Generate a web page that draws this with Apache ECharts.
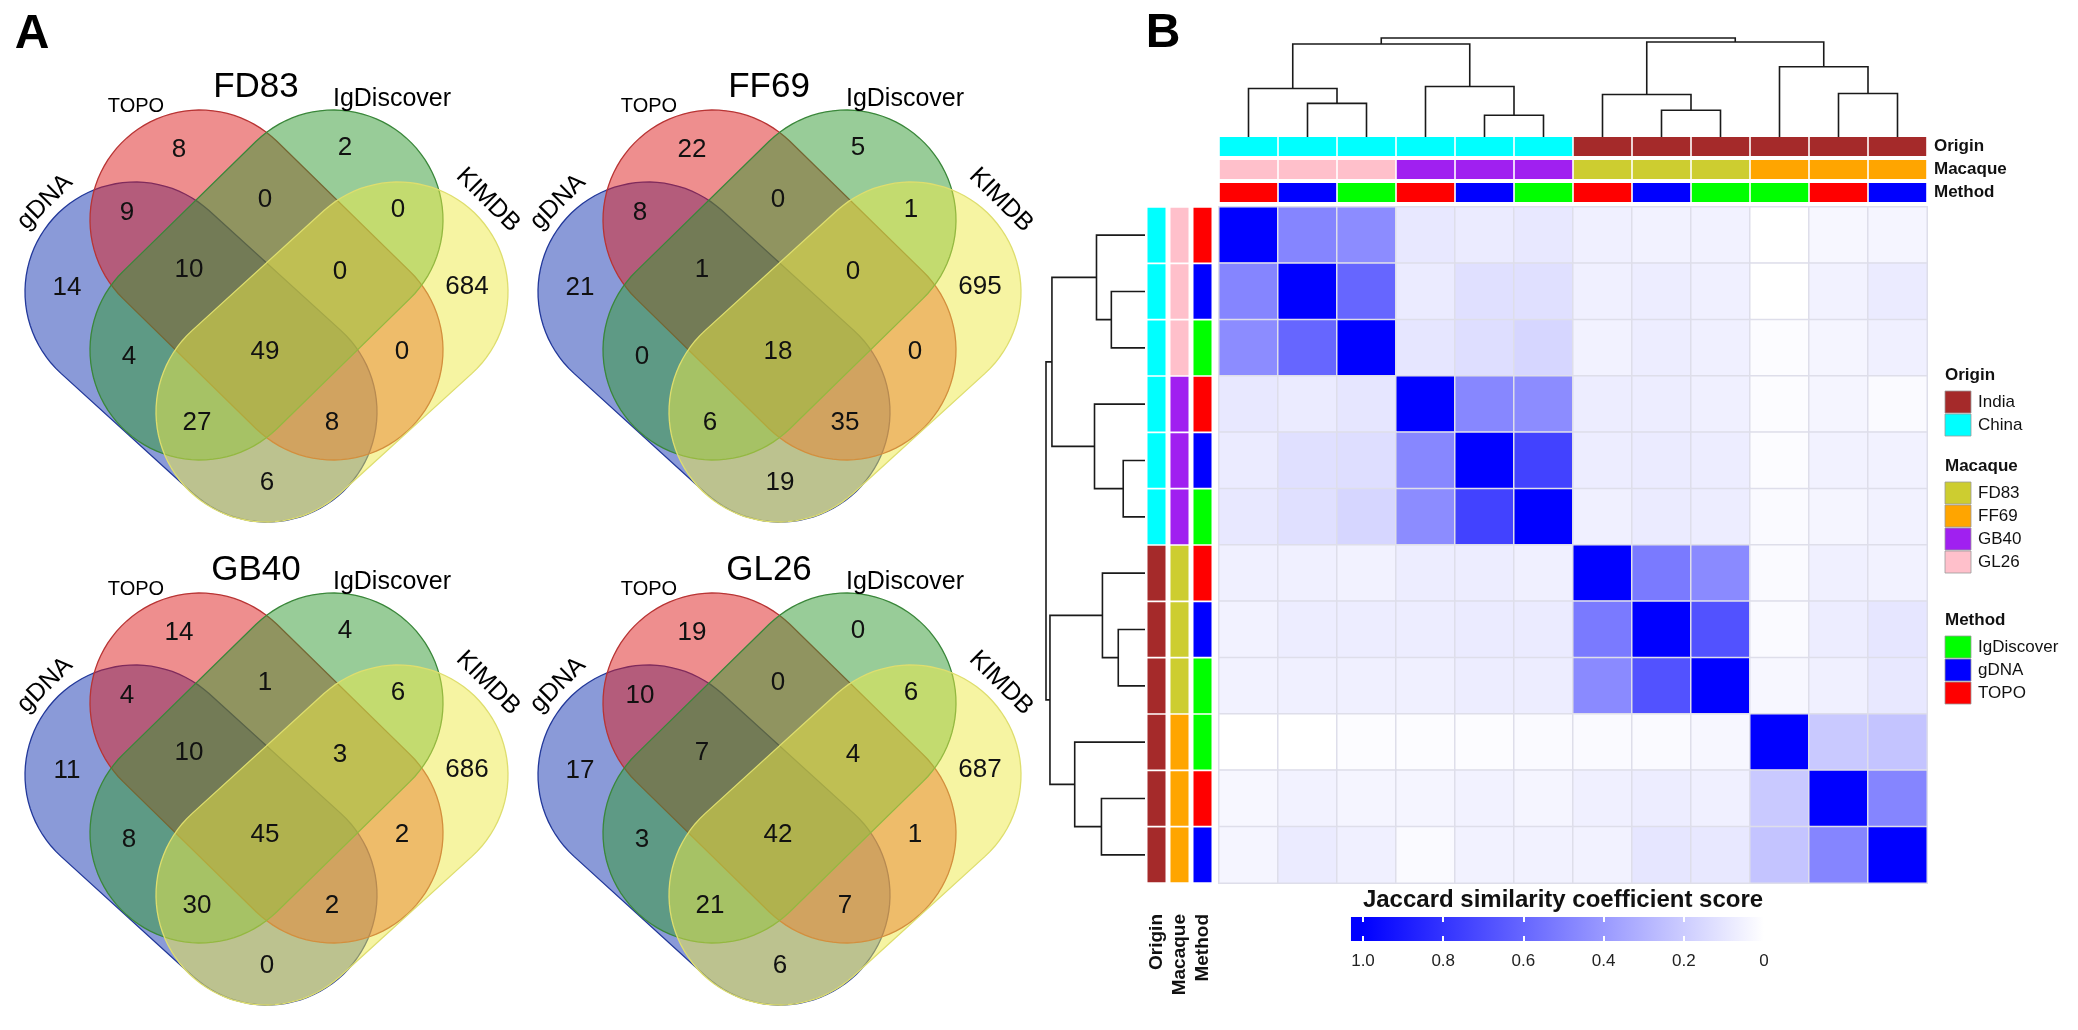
<!DOCTYPE html>
<html>
<head>
<meta charset="utf-8">
<title>Venn diagrams and Jaccard similarity heatmap</title>
<script src="https://cdn.jsdelivr.net/npm/echarts@6.0.0/dist/echarts.min.js"></script>
<style>
html,body{margin:0;padding:0;background:#ffffff;}
#chart{width:2078px;height:1030px;}
</style>
</head>
<body>
<div id="chart"></div>
<script>
// ================= DATA =================
const vennTitles = ['FD83', 'FF69', 'GB40', 'GL26'];
const setNames = ['gDNA', 'TOPO', 'IgDiscover', 'KIMDB'];
const regionNames = ['TOPO', 'IgDiscover', 'gDNA&TOPO', 'TOPO&IgDiscover', 'IgDiscover&KIMDB',
  'gDNA', 'gDNA&TOPO&IgDiscover', 'TOPO&IgDiscover&KIMDB', 'KIMDB', 'gDNA&IgDiscover',
  'all', 'TOPO&KIMDB', 'gDNA&IgDiscover&KIMDB', 'gDNA&TOPO&KIMDB', 'gDNA&KIMDB'];
const countsFD83 = [8, 2, 9, 0, 0, 14, 10, 0, 684, 4, 49, 0, 27, 8, 6];
const countsFF69 = [22, 5, 8, 0, 1, 21, 1, 0, 695, 0, 18, 0, 6, 35, 19];
const countsGB40 = [14, 4, 4, 1, 6, 11, 10, 3, 686, 8, 45, 2, 30, 2, 0];
const countsGL26 = [19, 0, 10, 0, 6, 17, 7, 4, 687, 3, 42, 1, 21, 7, 6];

const sampleIds = ['GL26_TOPO', 'GL26_gDNA', 'GL26_IgDiscover', 'GB40_TOPO', 'GB40_gDNA', 'GB40_IgDiscover',
  'FD83_TOPO', 'FD83_gDNA', 'FD83_IgDiscover', 'FF69_IgDiscover', 'FF69_TOPO', 'FF69_gDNA'];
const originOf = ['China', 'China', 'China', 'China', 'China', 'China', 'India', 'India', 'India', 'India', 'India', 'India'];
const macaqueOf = ['GL26', 'GL26', 'GL26', 'GB40', 'GB40', 'GB40', 'FD83', 'FD83', 'FD83', 'FF69', 'FF69', 'FF69'];
const methodOf = ['TOPO', 'gDNA', 'IgDiscover', 'TOPO', 'gDNA', 'IgDiscover', 'TOPO', 'gDNA', 'IgDiscover', 'IgDiscover', 'TOPO', 'gDNA'];
const annotTracks = ['Origin', 'Macaque', 'Method'];
const originLevels = ['India', 'China'];
const macaqueLevels = ['FD83', 'FF69', 'GB40', 'GL26'];
const methodLevels = ['IgDiscover', 'gDNA', 'TOPO'];

const jaccard = [
  [1.00, 0.48, 0.45, 0.09, 0.08, 0.09, 0.06, 0.05, 0.05, 0.00, 0.03, 0.04],
  [0.48, 1.00, 0.60, 0.08, 0.12, 0.12, 0.06, 0.07, 0.06, 0.00, 0.05, 0.08],
  [0.45, 0.60, 1.00, 0.10, 0.13, 0.16, 0.05, 0.07, 0.06, 0.01, 0.04, 0.06],
  [0.09, 0.08, 0.10, 1.00, 0.47, 0.45, 0.07, 0.07, 0.06, 0.01, 0.04, 0.02],
  [0.08, 0.12, 0.13, 0.47, 1.00, 0.74, 0.07, 0.08, 0.07, 0.01, 0.05, 0.05],
  [0.09, 0.12, 0.16, 0.45, 0.74, 1.00, 0.06, 0.08, 0.07, 0.02, 0.04, 0.05],
  [0.06, 0.06, 0.05, 0.07, 0.07, 0.06, 1.00, 0.52, 0.46, 0.02, 0.06, 0.05],
  [0.05, 0.07, 0.07, 0.07, 0.08, 0.08, 0.52, 1.00, 0.68, 0.02, 0.07, 0.10],
  [0.05, 0.06, 0.06, 0.06, 0.07, 0.07, 0.46, 0.68, 1.00, 0.03, 0.06, 0.09],
  [0.00, 0.00, 0.01, 0.01, 0.01, 0.02, 0.02, 0.02, 0.03, 1.00, 0.21, 0.23],
  [0.03, 0.05, 0.04, 0.04, 0.05, 0.04, 0.06, 0.07, 0.06, 0.21, 1.00, 0.48],
  [0.04, 0.08, 0.06, 0.02, 0.05, 0.05, 0.05, 0.10, 0.09, 0.23, 0.48, 1.00]
];
// hierarchical clustering merges: [clusterA, clusterB, height]; leaves 0..11, merges numbered 12..
const dendroMerges = [
  [1, 2, 0.34], [0, 12, 0.49], [4, 5, 0.22], [3, 14, 0.51], [13, 15, 0.94],
  [7, 8, 0.27], [6, 17, 0.43], [10, 11, 0.44], [9, 19, 0.71], [18, 20, 0.96], [16, 21, 1.00]
];
const colorbarTicks = [0, 0.2, 0.4, 0.6, 0.8, 1.0];
const colorbarTitle = 'Jaccard similarity coefficient score';

// ================= STYLE / LAYOUT =================
const FONT = '"Liberation Sans", Arial, Helvetica, sans-serif';
const trackColors = {
  Origin: { India: '#a52a2a', China: '#00ffff' },
  Macaque: { FD83: '#cdcd30', FF69: '#ffa500', GB40: '#a020f0', GL26: '#ffc0cb' },
  Method: { IgDiscover: '#00ff00', gDNA: '#0000ff', TOPO: '#ff0000' }
};
const trackValues = { Origin: originOf, Macaque: macaqueOf, Method: methodOf };
const trackLevels = { Origin: originLevels, Macaque: macaqueLevels, Method: methodLevels };

const VENN_ORIGINS = [[0, 0], [513, 0], [0, 483], [513, 483]];
const VENN_W = 520, VENN_H = 530, VENN_R = 110;
const VENN_SHAPES = [
  { c1: [135, 292], c2: [267, 412], fill: 'rgba(21,53,177,0.5)', stroke: '#22389a' },   // gDNA
  { c1: [200, 220], c2: [333, 350], fill: 'rgba(221,29,29,0.5)', stroke: '#b83434' },   // TOPO
  { c1: [333, 220], c2: [200, 350], fill: 'rgba(49,153,49,0.5)', stroke: '#3a873a' },   // IgDiscover
  { c1: [398, 292], c2: [266, 412], fill: 'rgba(237,233,69,0.5)', stroke: '#dede6e' }   // KIMDB
];
const REGION_POS = [[179, 150], [345, 148], [127, 213], [265, 200], [398, 210], [67, 288], [189, 270],
  [340, 272], [467, 287], [129, 357], [265, 352], [402, 352], [197, 423], [332, 423], [267, 483]];
const VENN_TEXT = [
  { key: 'title', x: 256, y: 87, size: 35, rot: 0 },
  { key: 1, x: 136, y: 106, size: 20, rot: 0 },
  { key: 2, x: 392, y: 99, size: 25, rot: 0 },
  { key: 0, x: 45, y: 202, size: 25, rot: 45 },
  { key: 3, x: 488, y: 200, size: 25, rot: -45 }
];

function mkText(x, y, text, size, opts) {
  opts = opts || {};
  const align = opts.align || 'center', va = opts.va || 'middle';
  return {
    type: 'text', x: x, y: y, rotation: opts.rot || 0, z: opts.z || 0,
    style: {
      text: text, font: (opts.bold ? 'bold ' : '') + size + 'px ' + FONT, fill: opts.color || '#111',
      align: align, verticalAlign: va, textAlign: align, textVerticalAlign: va
    }
  };
}

const grids = [], xAxes = [], yAxes = [], series = [];
function addGrid(g, xa, ya) {
  grids.push(g);
  const gi = grids.length - 1;
  xAxes.push(Object.assign({ gridIndex: gi, show: false }, xa));
  const xi = xAxes.length - 1;
  yAxes.push(Object.assign({ gridIndex: gi, show: false }, ya));
  const yi = yAxes.length - 1;
  return { gi: gi, xi: xi, yi: yi };
}

// ---------- Panel A: Venn diagrams ----------
const vennCounts = [countsFD83, countsFF69, countsGB40, countsGL26];
vennTitles.forEach(function (title, vi) {
  const o = VENN_ORIGINS[vi];
  const g = addGrid({ left: o[0], top: o[1], width: VENN_W, height: VENN_H },
    { type: 'value', min: 0, max: VENN_W }, { type: 'value', min: 0, max: VENN_H, inverse: true });
  series.push({
    type: 'custom', xAxisIndex: g.xi, yAxisIndex: g.yi, silent: true, z: 1,
    data: setNames.map(function (s, i) { return [i, 0]; }),
    renderItem: function (params, api) {
      const sh = VENN_SHAPES[api.value(0)];
      const c1 = sh.c1, c2 = sh.c2, r = VENN_R;
      const th = Math.atan2(c2[1] - c1[1], c2[0] - c1[0]);
      const pts = [], N = 48;
      for (let i = 0; i <= N; i++) {
        const a = th + Math.PI / 2 + Math.PI * i / N;
        pts.push(api.coord([c1[0] + r * Math.cos(a), c1[1] + r * Math.sin(a)]));
      }
      for (let i = 0; i <= N; i++) {
        const a = th - Math.PI / 2 + Math.PI * i / N;
        pts.push(api.coord([c2[0] + r * Math.cos(a), c2[1] + r * Math.sin(a)]));
      }
      return { type: 'polygon', shape: { points: pts }, style: { fill: sh.fill, stroke: sh.stroke, lineWidth: 1.3 } };
    }
  });
  series.push({
    type: 'custom', xAxisIndex: g.xi, yAxisIndex: g.yi, silent: true, z: 5,
    data: REGION_POS.map(function (p, i) { return [p[0], p[1], vennCounts[vi][i]]; }),
    renderItem: function (params, api) {
      const c = api.coord([api.value(0), api.value(1)]);
      return mkText(c[0], c[1], String(api.value(2)), 26, { color: '#111' });
    }
  });
  series.push({
    type: 'custom', xAxisIndex: g.xi, yAxisIndex: g.yi, silent: true, z: 5,
    data: VENN_TEXT.map(function (t, i) { return [t.x, t.y, i]; }),
    renderItem: function (params, api) {
      const t = VENN_TEXT[api.value(2)];
      const c = api.coord([api.value(0), api.value(1)]);
      const label = t.key === 'title' ? vennTitles[vi] : setNames[t.key];
      return mkText(c[0], c[1], label, t.size, { rot: t.rot * Math.PI / 180, color: '#000' });
    }
  });
});

// ---------- Panel B: heatmap ----------
const HM = { left: 1219, top: 207, width: 708, height: 676 };
const hg = addGrid(HM, { type: 'category', data: sampleIds }, { type: 'category', data: sampleIds, inverse: true });
const heatData = [];
jaccard.forEach(function (row, i) { row.forEach(function (v, j) { heatData.push([j, i, v]); }); });
const heatSeriesIndex = series.length;
series.push({
  type: 'heatmap', xAxisIndex: hg.xi, yAxisIndex: hg.yi, silent: true, data: heatData,
  itemStyle: { borderColor: '#dedeea', borderWidth: 1.5 }, emphasis: { disabled: true }
});

const ta = addGrid({ left: HM.left, top: 135, width: HM.width, height: 69 },
  { type: 'category', data: sampleIds }, { type: 'category', data: annotTracks, inverse: true });
const topAnnotData = [];
sampleIds.forEach(function (s, c) { annotTracks.forEach(function (t, r) { topAnnotData.push([c, r]); }); });
series.push({
  type: 'custom', xAxisIndex: ta.xi, yAxisIndex: ta.yi, silent: true, data: topAnnotData,
  renderItem: function (params, api) {
    const c = api.value(0), r = api.value(1);
    const p = api.coord([c, r]), sz = api.size([1, 1]);
    const track = annotTracks[r];
    const col = trackColors[track][trackValues[track][c]];
    return { type: 'rect', shape: { x: p[0] - sz[0] / 2 + 0.8, y: p[1] - 9.5, width: sz[0] - 1.6, height: 19 }, style: { fill: col } };
  }
});
const la = addGrid({ left: 1145, top: HM.top, width: 69, height: HM.height },
  { type: 'category', data: annotTracks }, { type: 'category', data: sampleIds, inverse: true });
const leftAnnotData = [];
sampleIds.forEach(function (s, c) { annotTracks.forEach(function (t, r) { leftAnnotData.push([r, c]); }); });
series.push({
  type: 'custom', xAxisIndex: la.xi, yAxisIndex: la.yi, silent: true, data: leftAnnotData,
  renderItem: function (params, api) {
    const r = api.value(0), c = api.value(1);
    const p = api.coord([r, c]), sz = api.size([1, 1]);
    const track = annotTracks[r];
    const col = trackColors[track][trackValues[track][c]];
    return { type: 'rect', shape: { x: p[0] - 9, y: p[1] - sz[1] / 2 + 0.8, width: 18, height: sz[1] - 1.6 }, style: { fill: col } };
  }
});

const clusterPos = [], clusterH = [];
for (let i = 0; i < sampleIds.length; i++) { clusterPos.push(i); clusterH.push(0); }
dendroMerges.forEach(function (m) { clusterPos.push((clusterPos[m[0]] + clusterPos[m[1]]) / 2); clusterH.push(m[2]); });
function mergePath(k) {
  const m = dendroMerges[k], a = m[0], b = m[1], h = m[2];
  return [[clusterPos[a], clusterH[a]], [clusterPos[a], h], [clusterPos[b], h], [clusterPos[b], clusterH[b]]];
}
const dt = addGrid({ left: HM.left, top: 38, width: HM.width, height: 99 },
  { type: 'value', min: -0.5, max: 11.5 }, { type: 'value', min: 0, max: 1 });
series.push({
  type: 'custom', xAxisIndex: dt.xi, yAxisIndex: dt.yi, silent: true,
  data: dendroMerges.map(function (m, k) { return [k, m[2]]; }),
  renderItem: function (params, api) {
    const pts = mergePath(api.value(0)).map(function (p) { return api.coord([p[0], p[1]]); });
    return { type: 'polyline', shape: { points: pts }, style: { stroke: '#1a1a1a', lineWidth: 1.6, fill: 'none' } };
  }
});
const dl = addGrid({ left: 1046, top: HM.top, width: 99, height: HM.height },
  { type: 'value', min: 0, max: 1, inverse: true }, { type: 'value', min: -0.5, max: 11.5, inverse: true });
series.push({
  type: 'custom', xAxisIndex: dl.xi, yAxisIndex: dl.yi, silent: true,
  data: dendroMerges.map(function (m, k) { return [m[2], k]; }),
  renderItem: function (params, api) {
    const pts = mergePath(api.value(1)).map(function (p) { return api.coord([p[1], p[0]]); });
    return { type: 'polyline', shape: { points: pts }, style: { stroke: '#1a1a1a', lineWidth: 1.6, fill: 'none' } };
  }
});

grids.push({ left: 1363, top: 917, width: 401, height: 24 });
const cbG = grids.length - 1;
const cbAxisCommon = {
  gridIndex: cbG, type: 'value', min: 0, max: 1, interval: 0.2, inverse: true, z: 10,
  axisLine: { show: false }, splitLine: { show: false },
  axisTick: { show: true, inside: true, length: 5, lineStyle: { color: '#ffffff', width: 2 } }
};
xAxes.push(Object.assign({}, cbAxisCommon, {
  position: 'bottom',
  axisLabel: { show: true, margin: 12, fontSize: 17, color: '#222', fontFamily: FONT, showMinLabel: true, showMaxLabel: true,
    formatter: function (v) { return v === 0 ? '0' : v.toFixed(1); } }
}));
const cbX = xAxes.length - 1;
xAxes.push(Object.assign({}, cbAxisCommon, { position: 'top', axisLabel: { show: false } }));
yAxes.push({ gridIndex: cbG, type: 'value', min: 0, max: 1, show: false });
const cbY = yAxes.length - 1;
series.push({
  type: 'custom', xAxisIndex: cbX, yAxisIndex: cbY, silent: true, z: 2,
  data: [[colorbarTicks[colorbarTicks.length - 1], colorbarTicks[0]]],
  renderItem: function (params, api) {
    const a = api.coord([api.value(0) + 0.03, 1]), b = api.coord([api.value(1) - 0.03, 0]);
    return {
      type: 'rect', shape: { x: a[0], y: a[1], width: b[0] - a[0], height: b[1] - a[1] },
      style: { fill: new echarts.graphic.LinearGradient(0, 0, 1, 0, [
        { offset: 0, color: '#0000ff' }, { offset: 0.028, color: '#0000ff' },
        { offset: 0.972, color: '#ffffff' }, { offset: 1, color: '#ffffff' }]) }
    };
  }
});

const graphics = [];
graphics.push(mkText(32, 35, 'A', 48, { bold: true, color: '#000', z: 100 }));
graphics.push(mkText(1163, 34, 'B', 48, { bold: true, color: '#000', z: 100 }));
graphics.push(mkText(1563, 900, colorbarTitle, 24, { bold: true, color: '#111', z: 100 }));
annotTracks.forEach(function (t, r) {
  graphics.push(mkText(1934, 146.5 + r * 23, t, 17, { bold: true, align: 'left', color: '#111', z: 100 }));
  graphics.push(mkText(1156.5 + r * 23, 914, t, 19, { bold: true, align: 'right', rot: Math.PI / 2, color: '#111', z: 100 }));
});
const LEG_X = 1945, LEG_TITLE_Y = [375, 466, 620], LEG_FIRST = 27, LEG_STEP = 23;
annotTracks.forEach(function (t, gi) {
  const ty = LEG_TITLE_Y[gi];
  graphics.push(mkText(LEG_X, ty, t, 17, { bold: true, align: 'left', color: '#111', z: 100 }));
  trackLevels[t].forEach(function (lv, i) {
    const cy = ty + LEG_FIRST + i * LEG_STEP;
    graphics.push({ type: 'rect', z: 100, shape: { x: LEG_X, y: cy - 11, width: 26, height: 22 },
      style: { fill: trackColors[t][lv], stroke: '#9a9a9a', lineWidth: 0.8 } });
    graphics.push(mkText(LEG_X + 33, cy, lv, 17, { align: 'left', color: '#111', z: 100 }));
  });
});

const chart = echarts.init(document.getElementById('chart'), null, { renderer: 'canvas' });
chart.setOption({
  animation: false,
  backgroundColor: '#ffffff',
  textStyle: { fontFamily: FONT },
  grid: grids,
  xAxis: xAxes,
  yAxis: yAxes,
  visualMap: [{ type: 'continuous', show: false, min: 0, max: 1, dimension: 2, seriesIndex: heatSeriesIndex,
    inRange: { color: ['#ffffff', '#0000ff'] } }],
  series: series,
  graphic: { elements: graphics }
});
</script>
</body>
</html>
